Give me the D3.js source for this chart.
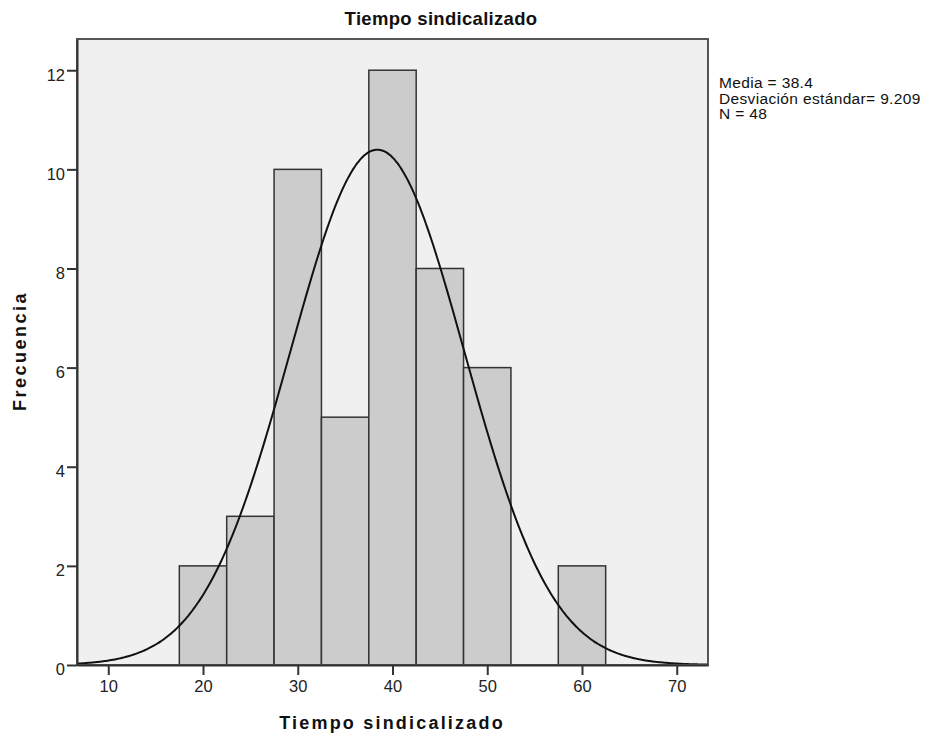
<!DOCTYPE html>
<html><head><meta charset="utf-8">
<script src="https://cdn.jsdelivr.net/npm/d3@7/dist/d3.min.js"></script>
<style>body{margin:0;background:#fff}svg{display:block}text{font-family:"Liberation Sans",Arial,sans-serif}</style>
</head><body><svg id="c" width="930" height="736"></svg>
<script>
const binStarts = [17.5, 22.5, 27.5, 32.5, 37.5, 42.5, 47.5, 52.5, 57.5];
const binWidth = 5;
const frequencies = [2, 3, 10, 5, 12, 8, 6, 0, 2];
const xTicks = [10, 20, 30, 40, 50, 60, 70];
const yTicks = [0, 2, 4, 6, 8, 10, 12];
const statsLines = ["Media = 38.4", "Desviación estándar= 9.209", "N = 48"];
const mean = 38.4, sd = 9.209, n = 48;

const svg = d3.select("#c");
const L = 77, R = 708, T = 39, B = 665;
const x = d3.scaleLinear().domain([6.7, 73.3]).range([L, R]);
const y = d3.scaleLinear().domain([0, 12.63]).range([B, T]);

svg.append("rect").attr("x", L).attr("y", T).attr("width", R - L).attr("height", B - T)
  .attr("fill", "#f0f0f0");

svg.append("clipPath").attr("id", "clip").append("rect")
  .attr("x", L).attr("y", T).attr("width", R - L).attr("height", B - T);
const g = svg.append("g").attr("clip-path", "url(#clip)");

g.selectAll("rect.bar").data(binStarts.map((s, i) => ({s, f: frequencies[i]})).filter(d => d.f > 0))
  .enter().append("rect").attr("class", "bar")
  .attr("x", d => x(d.s)).attr("width", d => x(d.s + binWidth) - x(d.s))
  .attr("y", d => y(d.f)).attr("height", d => y(0) - y(d.f))
  .attr("fill", "#cccccc").attr("stroke", "#333").attr("stroke-width", 1.5);

const pdf = v => n * binWidth / (sd * Math.sqrt(2 * Math.PI)) * Math.exp(-0.5 * ((v - mean) / sd) ** 2);
const xs = d3.range(6.7, 73.31, 0.2);
g.append("path").datum(xs)
  .attr("d", d3.line().x(v => x(v)).y(v => y(pdf(v))).curve(d3.curveBasis))
  .attr("fill", "none").attr("stroke", "#111").attr("stroke-width", 2);

// frame
svg.append("rect").attr("x", L).attr("y", T).attr("width", R - L).attr("height", B - T)
  .attr("fill", "none").attr("stroke", "#555").attr("stroke-width", 2);

// y axis
const yAxis = svg.append("g").attr("transform", `translate(${L},0)`)
  .call(d3.axisLeft(y).tickValues(yTicks).tickSize(10).tickSizeOuter(0).tickPadding(2));
yAxis.select(".domain").attr("stroke", "#333").attr("stroke-width", 2);
yAxis.selectAll(".tick line").attr("stroke", "#333").attr("stroke-width", 2);
yAxis.selectAll(".tick text").attr("font-size", 16.5).attr("fill", "#222").attr("dy", "0.6em")
  .attr("font-family", "Liberation Sans, Arial, sans-serif");

// x axis
const xAxis = svg.append("g").attr("transform", `translate(0,${B})`)
  .call(d3.axisBottom(x).tickValues(xTicks).tickSize(10).tickSizeOuter(0).tickPadding(5));
xAxis.select(".domain").attr("stroke", "#333").attr("stroke-width", 2);
xAxis.selectAll(".tick line").attr("stroke", "#333").attr("stroke-width", 2);
xAxis.selectAll(".tick text").attr("font-size", 16.5).attr("fill", "#222")
  .attr("font-family", "Liberation Sans, Arial, sans-serif");

// titles
svg.append("text").attr("x", 441).attr("y", 25).attr("text-anchor", "middle")
  .attr("font-size", 18.5).attr("font-weight", "bold").attr("letter-spacing", 0.3).attr("fill", "#111")
  .text("Tiempo sindicalizado");
svg.append("text").attr("x", 392).attr("y", 729).attr("text-anchor", "middle")
  .attr("font-size", 18).attr("font-weight", "bold").attr("letter-spacing", 2.2).attr("fill", "#111")
  .text("Tiempo sindicalizado");
svg.append("text").attr("transform", "translate(26,351) rotate(-90)").attr("text-anchor", "middle")
  .attr("font-size", 18).attr("font-weight", "bold").attr("letter-spacing", 2.5).attr("fill", "#111")
  .text("Frecuencia");

// stats
svg.append("g").selectAll("text").data(statsLines).enter().append("text")
  .attr("x", 719).attr("y", (d, i) => 88 + i * 15.5)
  .attr("font-size", 15.5).attr("letter-spacing", 0.35).attr("fill", "#111").text(d => d);
</script></body></html>
